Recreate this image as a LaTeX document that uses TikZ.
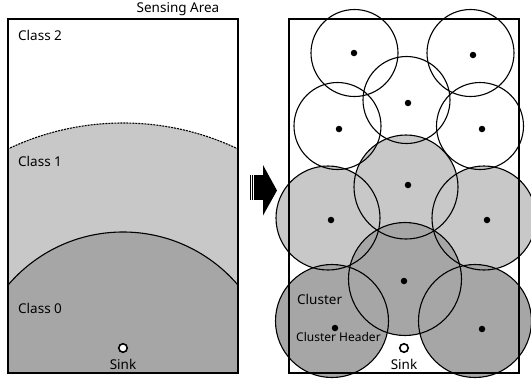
\documentclass[tikz,border=0pt]{standalone}
\usepackage{fontspec}
\setmainfont{Noto Sans}
\definecolor{lightfill}{HTML}{C8C8C8}
\definecolor{darkfill}{HTML}{A6A6A6}
\begin{document}
\begin{tikzpicture}[x=1pt,y=-1pt,
  lbl/.style={font=\fontsize{13.5}{15}\selectfont, inner sep=0pt},
  small/.style={font=\fontsize{12}{14}\selectfont, inner sep=0pt},
  frame/.style={line width=1.5pt},
  ring/.style={line width=1.1pt},
  dot/.style={circle, fill=black, inner sep=0pt, minimum size=6.5pt},
  sinkpt/.style={circle, draw=black, fill=white, line width=1.6pt, inner sep=0pt, minimum size=8.5pt}]
\useasboundingbox (0,0) rectangle (531,381);

% ---------- left panel: classes around the sink ----------
\begin{scope}
  \clip (8,19) rectangle (238,373);
  \fill[lightfill] (123,390) circle[radius=267pt];
  \fill[darkfill] (123,383) circle[radius=151pt];
  \draw[ring, dash pattern=on 2pt off 1pt] (123,390) circle[radius=267pt];
  \draw[ring] (123,383) circle[radius=151pt];
\end{scope}
\draw[frame] (8,19) rectangle (238,373);

\node[lbl] (title) at (178,9) {Sensing Area};
\node[lbl, anchor=west] (c2) at (18,35) {Class 2};
\node[lbl, anchor=west] (c1) at (18,161) {Class 1};
\node[lbl, anchor=west] (c0) at (18,308) {Class 0};
\node[sinkpt] (sinkL) at (123,348) {};
\node[lbl] (sinkLt) at (123,364) {Sink};

% ---------- arrow between the panels ----------
\fill (254,175) rectangle (264,200);
\fill (249.8,175) rectangle (251,200);
\fill (252,175) rectangle (253.2,200);
\fill (263,165) -- (277,190.5) -- (263,215.5) -- cycle;

% ---------- right panel: clusters ----------
% filled coverage areas
\foreach \cx/\cy in {406/187, 328/218, 484/218}
  \fill[lightfill] (\cx,\cy) circle[radius=52pt];
\foreach \cx/\cy in {405/279, 332/321, 475/321}
  \fill[darkfill] (\cx,\cy) circle[radius=56.5pt];
% outlines of every cluster
\foreach \cx/\cy in {406/187, 328/218, 484/218}
  \draw[ring] (\cx,\cy) circle[radius=52pt];
\foreach \cx/\cy in {405/279, 332/321, 475/321}
  \draw[ring] (\cx,\cy) circle[radius=56.5pt];
\foreach \cx/\cy in {354.5/53, 470.5/53, 406.5/100, 337.5/126, 480/126}
  \draw[ring] (\cx,\cy) circle[radius=43.5pt];

\draw[frame] (289,19) rectangle (519,373);

% cluster headers
\foreach \n/\cx/\cy in {a/354/53, b/473/55, c/408/103, d/339/129, e/482/129,
                        f/408/185, g/331/220, h/487/220, i/404/281, j/335/328, k/482/329}
  \node[dot] (h\n) at (\cx,\cy) {};

\node[lbl, anchor=west] (cl) at (297,299) {Cluster};
\node[small, anchor=west] (clh) at (296,337) {Cluster Header};
\node[sinkpt] (sinkR) at (404,348) {};
\node[lbl] (sinkRt) at (404,364) {Sink};
\end{tikzpicture}
\end{document}
